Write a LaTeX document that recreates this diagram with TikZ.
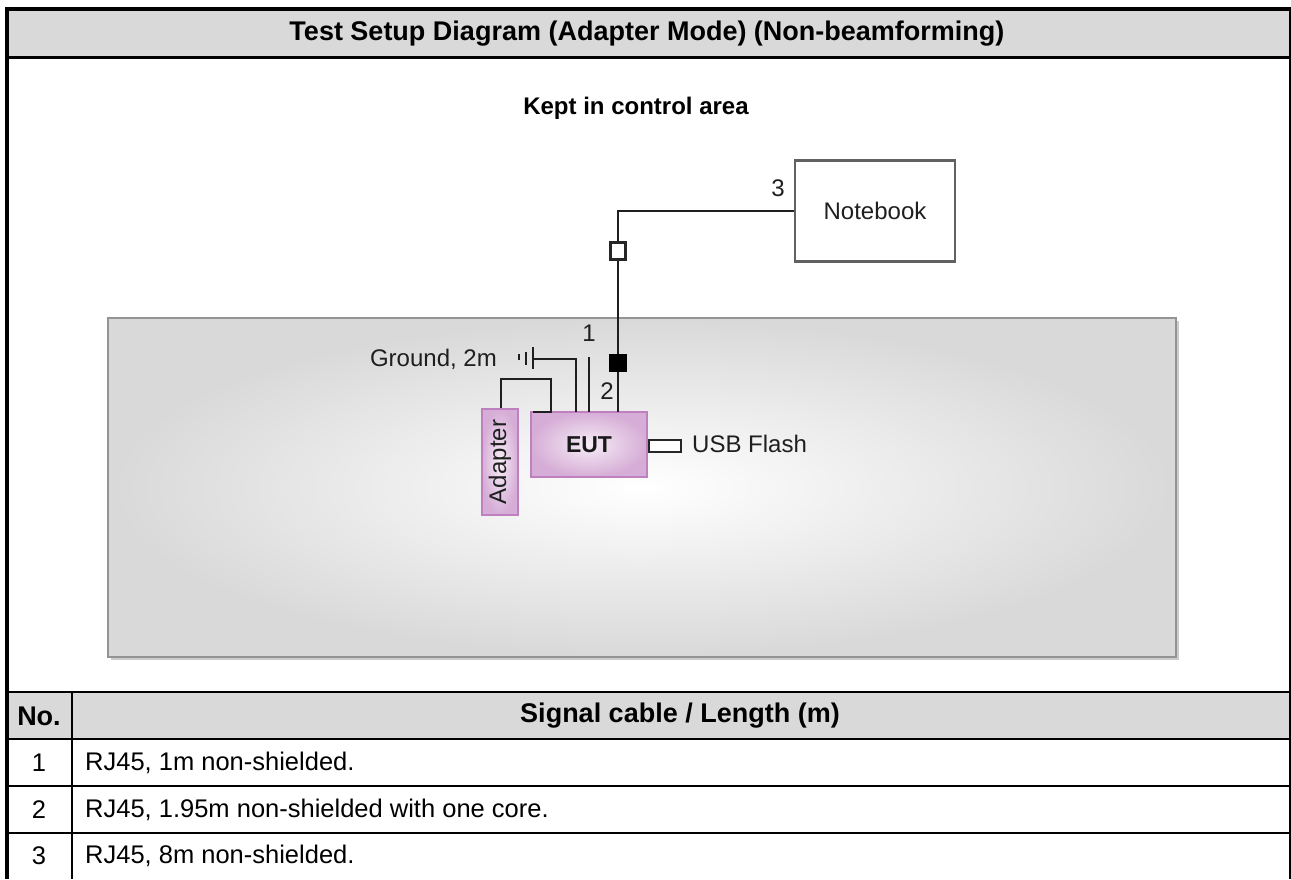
\documentclass[tikz,border=0pt]{standalone}
\usepackage{fontspec}
\setmainfont{Liberation Sans}
\begin{document}
\begin{tikzpicture}[x=1pt,y=-1pt,
  cable/.style={line width=2pt, draw=black!88},
  lbl/.style={font=\fontsize{24}{28}\selectfont, text=black!88, inner sep=0pt},
  hdr/.style={font=\fontsize{27}{32}\selectfont\bfseries, text=black, inner sep=0pt},
  cell/.style={font=\fontsize{25.5}{30}\selectfont, text=black, inner sep=0pt},
  frame/.style={draw=black},
  purplebox/.style={draw=violet!50!white, line width=2pt, inner color=violet!7!white, outer color=violet!32!white},
]
\definecolor{hdrgray}{HTML}{D9D9D9}
\useasboundingbox (0,0) rectangle (1291,879);
% header fills
\fill[hdrgray] (9,10) rectangle (1290,57);
\fill[hdrgray] (9,692) rectangle (1290,739);
% grey area
\fill[black!20] (111,321) rectangle (1179,660);
\shade[inner color=white, outer color=black!15] (108,318) rectangle (1176,657);
\draw[draw=black!42, line width=2pt] (108,318) rectangle (1176,657);
% frame lines
\draw[frame, line width=4pt] (5,9) -- (1291,9);
\draw[frame, line width=4.5pt] (7,7) -- (7,879);
\draw[frame, line width=2pt] (1290,7) -- (1290,879);
\draw[frame, line width=3pt] (9,57.5) -- (1290,57.5);
\draw[frame, line width=2pt] (9,692) -- (1290,692);
\draw[frame, line width=2.5pt] (9,739) -- (1290,739);
\draw[frame, line width=2.5pt] (9,786) -- (1290,786);
\draw[frame, line width=2.5pt] (9,833) -- (1290,833);
\draw[frame, line width=1.5pt] (72,692) -- (72,879);
% title and table text
\node[hdr] (title) at (647,34) {Test Setup Diagram (Adapter Mode) (Non-beamforming)};
\node[hdr] (hno) at (39,716) {No.};
\node[hdr] (hsig) at (680,716) {Signal cable / Length (m)};
\node[cell] (n1) at (39,763) {1};
\node[cell] (n2) at (39,810) {2};
\node[cell] (n3) at (39,856) {3};
\node[cell, anchor=west] (t1) at (85,763) {RJ45, 1m non-shielded.};
\node[cell, anchor=west] (t2) at (85,810) {RJ45, 1.95m non-shielded with one core.};
\node[cell, anchor=west] (t3) at (85,856) {RJ45, 8m non-shielded.};
% diagram
\node[font=\fontsize{24}{28}\selectfont\bfseries, inner sep=0pt, anchor=base] (kept) at (636,114) {Kept in control area};
\node[draw=black!62, line width=2.5pt, fill=white, minimum width=160pt, minimum height=101pt, lbl] (nb) at (875,211) {Notebook};
\node[purplebox, minimum width=116pt, minimum height=65pt, font=\fontsize{23}{28}\selectfont\bfseries, text=black!90] (eut) at (589,444.5) {EUT};
\node[purplebox, minimum width=36pt, minimum height=106pt] (adp) at (500,462) {};
\node[lbl, rotate=90] (adptext) at (500,462) {Adapter};
\node[draw=black!85, line width=1.6pt, fill=white, minimum width=32pt, minimum height=12pt, inner sep=0pt, anchor=west] (usb) at (eut.east |- 0,446) {};
\node[lbl, anchor=west] (usbl) at (692,444) {USB Flash};
% cable 3
\coordinate (c3) at (618,412);
\draw[cable] (nb.west) -| (c3);
\node[draw=black!85, line width=2.2pt, fill=white, minimum width=15pt, minimum height=17pt, inner sep=0pt] (sq1) at (618,251) {};
\node[fill=black, minimum width=18pt, minimum height=18pt, inner sep=0pt] (sq2) at (618,363) {};
% cable 1
\coordinate (c1t) at (589,357);
\coordinate (c1b) at (589,412);
\draw[cable] (c1t) -- (c1b);
% ground
\coordinate (gnd) at (533,359);
\coordinate (gndb) at (576,412);
\draw[cable] (gnd) -| (gndb);
\draw[cable] (533,347) -- (533,369);
\draw[cable] (526,352) -- (526,365);
\draw[cable, line width=1.5pt] (519,354) -- (519,360);
% adapter cable
\coordinate (ab1) at (551,379);
\coordinate (ab2) at (551,412);
\coordinate (ab3) at (533,412);
\draw[cable] (adp.north -| 501,0) |- (ab1) -- (ab2) -- (ab3);
% labels
\node[lbl] (l1) at (589,333) {1};
\node[lbl] (l2) at (607,391) {2};
\node[lbl] (l3) at (778,188) {3};
\node[lbl, anchor=east] (gl) at (497,359) {Ground, 2m};
\end{tikzpicture}
\end{document}
